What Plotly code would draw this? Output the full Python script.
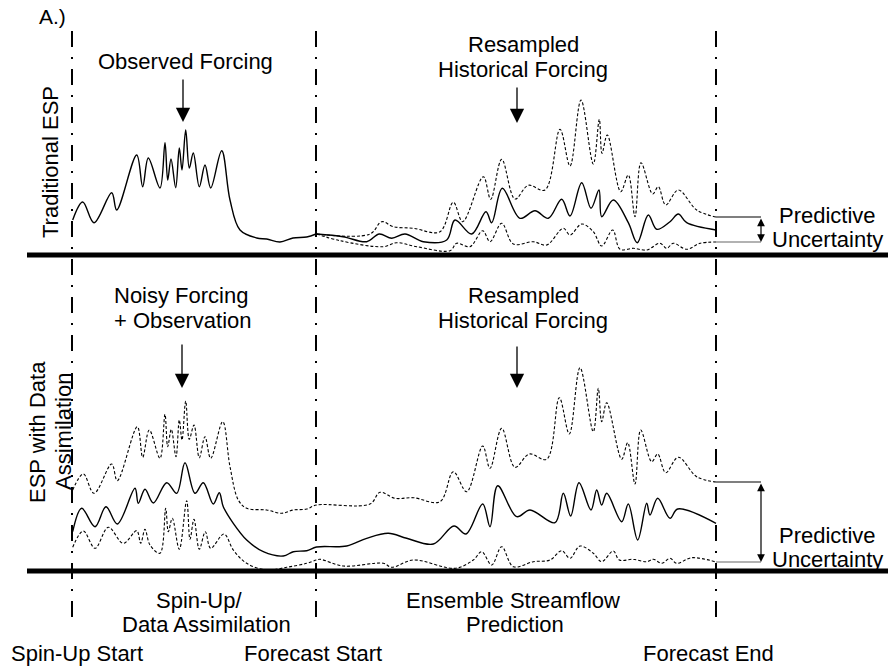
import plotly.graph_objects as go

# ---------------------------------------------------------------------------
# Schematic canvas: x runs left->right, y runs top->bottom (canvas units)
# ---------------------------------------------------------------------------
CANVAS_W, CANVAS_H = 888, 666

# Event markers on the time axis
event_x = [72, 316, 716]            # spin-up start, forecast start, forecast end
event_labels = ["Spin-Up Start", "Forecast Start", "Forecast End"]
event_label_x = [77, 313, 708]

# Panel baselines
panel_base_y = [255, 571]

# --- Panel A (traditional ESP) --------------------------------------------
top_obs_x = [72.7, 82.7, 94, 111.7, 116.7, 136.7, 142.7, 148.3, 160, 165, 167.7,
             171, 175.7, 179.3, 182, 185.7, 189.3, 193.3, 199.3, 205, 210.7,
             221.7, 230, 240, 256.7, 266.7, 280, 293, 306.7, 316]
top_obs_y = [220, 202, 222.7, 192.7, 210, 155, 186.7, 158, 188, 142.7, 180,
             159, 187.7, 148, 170, 130, 168, 153, 186.7, 165, 188,
             150.7, 200, 230, 238, 239, 242, 238, 237, 234]

top_hi_x = [316.7, 370, 381.7, 393.3, 413.3, 440, 453.3, 462.7, 483.3, 490.7,
            501.7, 515, 528.3, 545, 560, 570, 581, 593.3, 599.3, 602, 607.3,
            620.7, 628.3, 635, 641, 652.7, 658.3, 665.7, 678.3, 696.7, 716]
top_hi_y = [234, 234, 221.7, 226.7, 228.3, 231.7, 202.3, 221.7, 176.7, 199.3,
            159.3, 199, 185.3, 190, 129.3, 166, 100, 164, 119.3, 153.3, 135,
            191.7, 175, 216.7, 162.7, 194, 186.7, 205, 190, 210, 217]

top_mid_x = [316.7, 343, 366.7, 379.3, 391.7, 405, 423.3, 446.7, 455, 471.7,
             486, 491.7, 502.3, 520, 535, 548.3, 561.7, 570, 581.7, 591, 599,
             601.7, 613.3, 628.3, 637.3, 648.3, 656.7, 670, 678.3, 686.7, 716]
top_mid_y = [234, 236.7, 241.7, 234, 238.3, 234, 241.7, 240, 220, 234,
             211.7, 222.7, 188.3, 218.3, 210.7, 218.3, 199.3, 216, 182.7, 208.3, 190,
             216.7, 200, 222.7, 242.7, 215, 229.3, 221.7, 214, 222.7, 230]

top_lo_x = [316.7, 340, 383.3, 396.7, 416.7, 450, 456.7, 470, 482.7, 490,
            501.7, 513.3, 533.3, 546.7, 563.3, 570, 581.7, 593.3, 601.7, 612.7,
            620, 633.3, 646.7, 660, 666.7, 673.3, 686.7, 700, 716]
top_lo_y = [234, 240.7, 246.7, 242.7, 246.7, 250.7, 243.3, 246.7, 230.7, 241.7,
            223.3, 244, 241.7, 245, 228.3, 235, 224, 231.7, 246, 230,
            249.3, 248.3, 250, 243.3, 248.3, 243.3, 249.3, 243.3, 242]

# --- Panel B (ESP with data assimilation) ---------------------------------
bot_hi_x = [72.7, 83.3, 94, 111.7, 117.3, 137.3, 142.7, 149.3, 160, 165, 167.7,
            171.3, 176, 179.3, 182, 185.7, 189.3, 194, 199.3, 205, 210.7, 222.7,
            230, 238.3, 246.7, 266.7, 281.7, 293.3, 306.7, 316.5,
            370, 380, 395, 413.3, 440, 453.3, 466.7, 482.7, 490, 501.7, 515,
            529.3, 546.7, 559.3, 569.3, 580, 593.3, 598.3, 601.7, 606.7, 621.7,
            627.7, 635, 640.7, 651.7, 657.7, 665.7, 678.3, 696.7, 716]
bot_hi_y = [490, 474, 493.3, 464, 480.7, 426.7, 457.3, 430, 458.3, 414.3, 446.7,
            429.3, 456.7, 420, 440, 401, 439.3, 425, 457.7, 436.7, 458.3, 421.7,
            466.7, 500, 508.3, 510, 513.3, 510, 509, 505,
            504, 492.3, 498.3, 497.7, 501.7, 471.7, 491.7, 446, 468.3, 428.3, 467.3,
            454, 459.3, 397.7, 434, 367.7, 431.7, 388.3, 421.7, 402.7, 459.3,
            442.7, 484, 430, 461.7, 454, 472.7, 457.3, 476.7, 482]

bot_mid_x = [72.7, 81.7, 95, 106, 117.3, 135, 138.3, 145, 153.3, 166.7, 176.7,
             185, 195, 203.3, 213.3, 219.3, 223.3, 233.3, 246.7, 263.3, 283.3,
             293.3, 306.7, 316.5,
             346.7, 366.7, 388.3, 406.7, 433.3, 454, 466, 482.7, 490, 497.7,
             516.7, 530, 555, 563.3, 570.7, 579, 591, 596.7, 601.7, 606.7, 621.7,
             628.3, 637.7, 646.7, 650, 657.7, 670, 677.7, 716]
bot_mid_y = [531.7, 508.3, 526.7, 506.7, 524, 488.3, 503.3, 489.3, 503, 482.7, 493.3,
             462.7, 493.3, 482.7, 504, 492.7, 506.7, 523.3, 540, 551.7, 556,
             551.7, 550.7, 547,
             546, 538.3, 533.3, 538.3, 544, 526, 534, 504, 526.7, 485.7,
             516.7, 510, 522.7, 493.3, 516, 482.7, 510, 490, 505, 493.3, 521.7,
             504, 540, 503.3, 515, 498.3, 518.3, 509, 523.3]

bot_lo_x = [72.7, 83.3, 95, 108.3, 123.3, 136.7, 140.7, 145, 150, 160, 165.7,
            168.3, 172.3, 179.3, 186.7, 190, 194, 199.3, 205.3, 210.7, 224,
            233.3, 246.7, 266.7, 286.7, 306.7, 316.5, 320,
            343.3, 383.3, 391.7, 413.3, 455, 473.3, 481.7, 491.7, 501.7, 513.3,
            533.3, 550, 561.7, 570, 580, 593.3, 601.7, 613.3, 619.3, 633.3,
            646.7, 653.3, 661.7, 670, 676.7, 691.7, 716]
bot_lo_y = [547.3, 531, 548.3, 527.3, 543.3, 530.7, 543.3, 529.3, 545, 553.3, 508.3,
            531.7, 518.3, 549.3, 500.7, 539.3, 519.3, 549.3, 531.7, 548.3, 534,
            550, 563.3, 570, 567.3, 563.3, 560, 559.3,
            566, 563.3, 567.3, 560, 568.3, 560, 551.7, 565, 546.7, 566.7,
            561.7, 560, 550.7, 558.3, 546, 553.3, 561.7, 551, 560, 559.3,
            561.7, 559.3, 563.3, 558.3, 563.3, 557.7, 562]

# Uncertainty bracket extents at forecast end (top edge, bottom edge)
bracket_top = [217, 242]
bracket_bot = [482, 562]

FONT = "Liberation Sans, Arial, sans-serif"
INK = "black"

fig = go.Figure()


def curve(xs, ys, dashed=False):
    fig.add_trace(go.Scatter(
        x=xs, y=ys, mode="lines",
        line=dict(color=INK, width=1.1 if dashed else 1.4,
                  dash="3px,2px" if dashed else "solid",
                  shape="spline", smoothing=1.0),
        hoverinfo="skip", showlegend=False))


curve(top_obs_x, top_obs_y)
curve(top_hi_x, top_hi_y, dashed=True)
curve(top_mid_x, top_mid_y)
curve(top_lo_x, top_lo_y, dashed=True)
curve(bot_hi_x, bot_hi_y, dashed=True)
curve(bot_mid_x, bot_mid_y)
curve(bot_lo_x, bot_lo_y, dashed=True)

shapes = []
# Heavy panel baselines
for yb in panel_base_y:
    shapes.append(dict(type="line", xref="x", yref="y", x0=27, x1=CANVAS_W,
                       y0=yb, y1=yb, line=dict(color=INK, width=5)))
# Dash-dot event lines
for xe in event_x:
    shapes.append(dict(type="line", xref="x", yref="y", x0=xe, x1=xe,
                       y0=31, y1=625,
                       line=dict(color=INK, width=2, dash="16px,10px,2px,10px")))
# Bracket ticks
for (y_up, y_dn) in (bracket_top, bracket_bot):
    shapes.append(dict(type="line", xref="x", yref="y", x0=event_x[2], x1=761,
                       y0=y_up, y1=y_up, line=dict(color=INK, width=1.2)))
    shapes.append(dict(type="line", xref="x", yref="y", x0=event_x[2], x1=761,
                       y0=y_dn, y1=y_dn, line=dict(color="#666666", width=1.2)))

annotations = []


def label(text, x, y, size=22, angle=0):
    annotations.append(dict(text=text, x=x, y=y, xref="x", yref="y",
                            showarrow=False, xanchor="center", yanchor="middle",
                            textangle=angle,
                            font=dict(family=FONT, size=size, color=INK)))


def down_arrow(x, y_tail, y_tip):
    annotations.append(dict(text="", x=x, y=y_tip, ax=x, ay=y_tail,
                            xref="x", yref="y", axref="x", ayref="y",
                            showarrow=True, arrowhead=2, arrowsize=2.2,
                            arrowwidth=1.3, arrowcolor=INK, standoff=0))


def double_arrow(x, y0, y1):
    annotations.append(dict(text="", x=x, y=y1, ax=x, ay=y0,
                            xref="x", yref="y", axref="x", ayref="y",
                            showarrow=True, arrowhead=2, startarrowhead=2,
                            arrowside="end+start", arrowsize=1.3,
                            startarrowsize=1.3, arrowwidth=1.2,
                            arrowcolor=INK, standoff=0, startstandoff=0))


label("A.)", 52, 16, size=21)

# Panel A texts
label("Observed Forcing", 185, 61)
down_arrow(183, 78, 122)
label("Resampled", 523, 44)
label("Historical Forcing", 523, 69)
down_arrow(517, 86, 123)
label("Traditional ESP", 50, 162, angle=-90)
label("Predictive", 827, 215)
label("Uncertainty", 827, 239)
double_arrow(761, bracket_top[0], bracket_top[1])

# Panel B texts
label("Noisy Forcing", 181, 295)
label("+ Observation", 183, 320)
down_arrow(182, 343, 388)
label("Resampled", 523, 295)
label("Historical Forcing", 523, 320)
down_arrow(517, 345, 388)
label("ESP with Data", 37, 432, angle=-90)
label("Assimilation", 63, 432, angle=-90)
label("Predictive", 827, 535)
label("Uncertainty", 827, 559)
double_arrow(761, bracket_bot[0], bracket_bot[1])

# Period labels under the panels
label("Spin-Up/", 199, 600)
label("Data Assimilation", 206, 624)
label("Ensemble Streamflow", 513, 600)
label("Prediction", 515, 624)

# Event labels
for name, xl in zip(event_labels, event_label_x):
    label(name, xl, 653)

fig.update_layout(
    width=CANVAS_W, height=CANVAS_H,
    margin=dict(l=0, r=0, t=0, b=0),
    paper_bgcolor="white", plot_bgcolor="white",
    showlegend=False,
    xaxis=dict(range=[0, CANVAS_W], visible=False, fixedrange=True),
    yaxis=dict(range=[CANVAS_H, 0], visible=False, fixedrange=True),
    shapes=shapes, annotations=annotations,
)

fig.write_html("out.html")
